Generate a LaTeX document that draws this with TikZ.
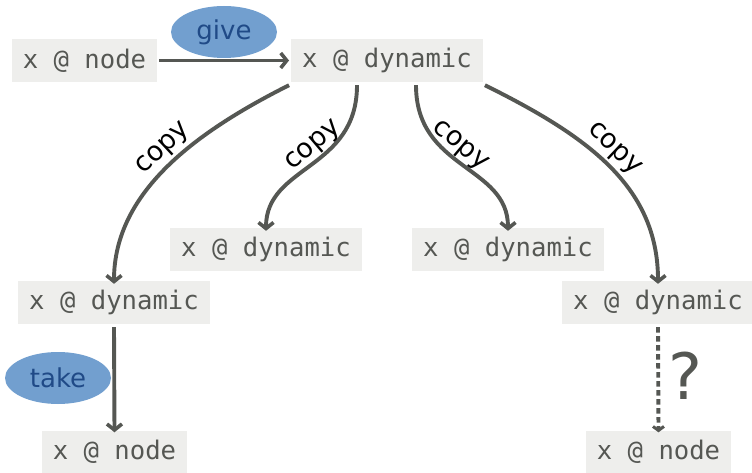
\documentclass[tikz,border=0pt]{standalone}
\usepackage{fontspec}
\setmainfont{DejaVu Sans}
\newfontfamily\codefont{DejaVu Sans Mono}
\usetikzlibrary{arrows.meta,shapes.geometric}
\definecolor{alu1}{HTML}{EEEEEC}
\definecolor{alu5}{HTML}{555753}
\definecolor{skyL}{HTML}{729FCF}
\definecolor{skyD}{HTML}{204A87}
\tikzset{
  x=1pt, y=-1pt,
  val/.style={fill=alu1, text=alu5, font=\codefont\fontsize{25.6}{30}\selectfont,
    minimum height=43pt, inner xsep=11pt, inner ysep=0pt, anchor=center},
  dynbox/.style={val, minimum width=190pt},
  nodebox/.style={val, minimum width=143pt},
  op/.style={ellipse, fill=skyL, text=skyD, font=\fontsize{26}{30}\selectfont,
    minimum width=106pt, minimum height=52pt, inner sep=0pt},
  link/.style={draw=alu5, line width=3.9pt, -{Straight Barb[length=6pt,width=15pt,line width=3.6pt]}},
  maybe/.style={draw=alu5, line width=3.9pt, dash pattern=on 5.5pt off 3.5pt,
    -{Straight Barb[length=4pt,width=11pt,line width=3pt]}},
  lbl/.style={font=\fontsize{27}{30}\selectfont, text=black, sloped, inner sep=3pt},
}
\begin{document}
\begin{tikzpicture}
\useasboundingbox (0,0) rectangle (752,473);

\node[nodebox] (src) at (84.5,60.5) {x @ node};
\node[dynbox]  (top) at (387,60.5) {x @ dynamic};
\node[dynbox]  (d1) at (114,302.5) {x @ dynamic};
\node[dynbox]  (d2) at (266,249.5) {x @ dynamic};
\node[dynbox]  (d3) at (508,249.5) {x @ dynamic};
\node[dynbox]  (d4) at (658,302.5) {x @ dynamic};
\node[nodebox] (dst1) at (114.5,452) {x @ node};
\node[nodebox] (dst2) at (658.5,452) {x @ node};

\node[op] (give) at (224,32) {give};
\node[op] (take) at (58,378) {take};

% give
\draw[link] ([xshift=2pt]src.east) -- ([xshift=-2pt]top.west);

% four copies
\draw[link] ([xshift=-2pt,yshift=-3pt]top.south west)
  .. controls (200,130) and (114,190) .. ([yshift=-3pt]d1.north)
  node[lbl, pos=0.47, above] {copy};
\draw[link] ([xshift=-30pt,yshift=-3pt]top.south)
  .. controls (357,170) and (266,165) .. ([yshift=-3pt]d2.north)
  node[lbl, pos=0.42, above, inner sep=1pt] {copy};
\draw[link] ([xshift=29pt,yshift=-3pt]top.south)
  .. controls (416,170) and (508,165) .. ([yshift=-3pt]d3.north)
  node[lbl, pos=0.42, above, inner sep=1pt] {copy};
\draw[link] ([xshift=2pt,yshift=-3pt]top.south east)
  .. controls (585,135) and (658,185) .. ([yshift=-3pt]d4.north)
  node[lbl, pos=0.47, above] {copy};

% take, and the unknown move
\draw[link] ([yshift=-3pt]d1.south) -- ([yshift=-2pt]dst1.north);
\draw[maybe] ([yshift=-3pt]d4.south) -- ([yshift=-2pt]dst2.north)
  node[midway, anchor=west, xshift=8pt, yshift=4pt, inner sep=0pt, text=alu5,
       font=\fontsize{64}{64}\selectfont] {?};
\end{tikzpicture}
\end{document}
